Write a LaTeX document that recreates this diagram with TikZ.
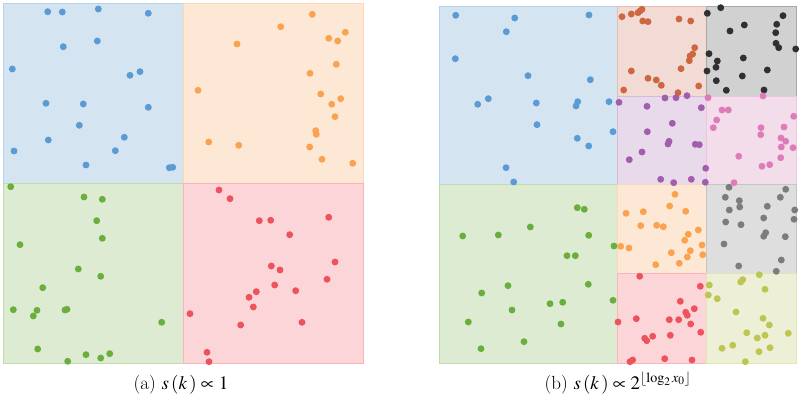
\documentclass[tikz,border=0pt]{standalone}
\usepackage{mathptmx}
\definecolor{fblue}{HTML}{D4E5F1}\definecolor{pblue}{HTML}{5B9BD5}
\definecolor{forange}{HTML}{FDE8D6}\definecolor{porange}{HTML}{F9A350}
\definecolor{fgreen}{HTML}{DDEBD2}\definecolor{pgreen}{HTML}{6AAE3E}
\definecolor{fred}{HTML}{FBD5D8}\definecolor{pred}{HTML}{EE525C}
\definecolor{fbrown}{HTML}{F1DBD4}\definecolor{pbrown}{HTML}{CF6642}
\definecolor{fblack}{HTML}{D1D1D1}\definecolor{pblack}{HTML}{303030}
\definecolor{fpurple}{HTML}{E8D9EB}\definecolor{ppurple}{HTML}{A25EAC}
\definecolor{fpink}{HTML}{F4DDEA}\definecolor{ppink}{HTML}{DE7CB9}
\definecolor{fgray}{HTML}{DEDEDE}\definecolor{pgray}{HTML}{7C7C7C}
\definecolor{folive}{HTML}{EDF0D6}\definecolor{polive}{HTML}{BEC550}
\tikzset{
  region/.style={fill=f#1, draw=p#1!25!f#1, line width=0.6pt},
  dot/.style={fill=p#1, draw=none},
  caption/.style={anchor=base, font=\fontsize{19}{22}\selectfont}
}
\newcommand\mydots[2]{\foreach \px/\py in {#2} {\fill[dot=#1] (\px,\py) circle[radius=3.45pt];}}
\begin{document}
\begin{tikzpicture}[x=1pt,y=-1pt]
\useasboundingbox (0,0) rectangle (801,395);
% ---------- panel (a)
\path[region=blue]   (3,3) rectangle (183,183);
\path[region=orange] (183,3) rectangle (363,183);
\path[region=green]  (3,183) rectangle (183,363);
\path[region=red]    (183,183) rectangle (363,363);
\mydots{blue}{47.7/11.7,62.3/12,98.3/9,148.3/13.3,63.3/46.7,97.3/41,12.3/69,130/75.3,140/71.7,46/103.3,83.3/104,148.3/107.3,79.3/125.3,48.3/140,124.3/137.3,14/151,115.3/150.7,86/165,169.3/167.7,172.7/167.3}
\mydots{orange}{312.3/14.3,280.7/26.7,345.3/32.3,328.7/38.3,337.7/41,237/44,336.3/64.3,310/73.3,198/90.3,320.7/94,340.7/98.7,331.7/104.3,335/116.7,315.7/130.7,316.3/134.3,208.7/142,238.7/145.3,309.7/147,322/159.3,352.7/163.3}
\mydots{green}{10.7/186.7,84/197,102.3/199.3,96.7/220.7,102.3/238.3,20/244.7,78.3/269,100.7/276.3,42.7/287.7,13.3/309.7,37/310.3,33.3/316,65/310,67/309.3,161.7/322.3,37.7/349,86/354.7,109.7/353.7,100.7/358,67.7/361.3}
\mydots{red}{219/190,230/198.7,259.3/220.7,270.7/220.3,328.7/217.3,289.7/234.7,335/262,271.3/266,280/270,327/279.3,274.7/285,295.7/290.7,256.3/291.7,249/297.3,253.3/307,190/313.7,240.7/325,302/322.3,207/352.3,209/361.7}
% ---------- panel (b)
\path[region=blue]   (439,6) rectangle (617.5,184.5);
\path[region=green]  (439,184.5) rectangle (617.5,363);
\path[region=brown]  (617.5,6) rectangle (706,96);
\path[region=black]  (706,6) rectangle (796,96);
\path[region=purple] (617.5,96) rectangle (706,184.5);
\path[region=pink]   (706,96) rectangle (796,184.5);
\path[region=orange] (617.5,184.5) rectangle (706,273);
\path[region=gray]   (706,184.5) rectangle (796,273);
\path[region=red]    (617.5,273) rectangle (706,363);
\path[region=olive]  (706,273) rectangle (796,363);
\mydots{blue}{455.7/15.3,514.7/18,589/15,506.3/31.7,455.3/58.7,528/75.7,590.3/79.7,488.3/98.7,477.7/104.3,536.3/103,577.7/101.7,576/106,609/101.7,537/124.7,613/131.7,577.3/138.3,588.7/146,506/167.7,513.7/182}
\mydots{green}{577.3/207.7,584.3/209.3,530.3/227,462.7/236,498.3/235,588.7/235.3,614/246,567/255.7,575.3/255.7,508/285.7,588.3/284.3,481.7/293,613/300.3,550/303.7,562.7/302.3,512/310,468.3/322,561/324,524/341.7,481/348.7}
\mydots{brown}{622/16.7,631.3/14,638/12.7,642/9.3,640/11,642.7/21,648/21.7,679/19,690.7/21,694.7/47.7,692.7/54,690/56,689.3/60.7,681/68.7,631.3/71,648/78.3,656.3/80,661.3/85.3,698.7/86,623.7/90,678/92.7}
\mydots{black}{707.3/13.3,720.7/7.7,783/15.7,744.3/25,730/31,776.7/24.3,775.7/32.7,776/43.3,778.7/47.7,795.7/49,709/53.7,717.3/61,743.3/58,716/67.3,707/71,767.3/70,742.3/76,716.3/80.7,726.3/90.3,764/90}
\mydots{purple}{619/102.3,665/98,676/97.7,687/95.7,647/106.3,701.3/107.7,672.3/123.3,647.3/131.7,669/141.3,668/144,695.3/144.3,699.3/144.7,642/152,629.3/159.7,705.7/168.3,660.7/179.3,673.7/182.7,691.3/179.3,705.3/182.3}
\mydots{pink}{708/97.7,763/96,722/110,728.3/110,716.7/120,713.3/127.7,793.7/116.3,761/127.7,784/127,760.7/134.7,781/138,785.7/141.3,781.3/147,793/147.7,738.7/156.3,780.7/157.7,769.7/164.7,762/166.3,734/182.7}
\mydots{orange}{675/194.3,669.7/206,626/213.3,643.3/211.7,685.7/211.3,640.7/225.7,656.7/225.3,663.3/226.7,698.3/230,688.3/234.3,684.7/240.3,702/245,620.7/246.3,629/248,690.3/250.7,671.3/252.7,702.7/254.7,687.3/257,679.3/263.3,655.7/264.7}
\mydots{gray}{729/187.3,785.7/189.3,725.3/197.3,739.3/200.7,780.3/197.3,739.7/207,767.3/206.3,729.3/210,794.7/210,794/219.3,763.7/218,725.7/222,741/224.7,765.7/232.7,763.7/236.3,785.3/236.7,724/244,781.3/260,738.7/266,776.3/271.3}
\mydots{red}{639.7/276.3,700.3/286.3,680.3/301.3,694.3/308.7,685.7/312.3,687.3/315.3,636.3/318.7,618/322,669.3/319.7,678.7/319.7,690.7/324,700.7/332.3,652.7/336.3,644.7/338.3,646.7/340.7,670.3/335.3,664.7/358.7,692/360,632.7/360,630/361.7}
\mydots{olive}{759.3/274.7,742.7/279.7,740.7/282,709.3/285,765/289.3,708.3/295,717.3/298.7,736/312,763/318.3,769.3/325,746.7/332.7,765/335.3,757.3/338,788.3/333.3,732.7/345.3,722/348.3,770/347.7,759/351.7,745.3/361.7}
% ---------- captions
\node[caption] (capa) at (181,389) {(a) $s\,(k\,)\propto 1$};
\node[caption] (capb) at (618,389) {(b) $s\,(k\,)\propto 2^{\lfloor\log_2 x_0\rfloor}$};
\end{tikzpicture}
\end{document}
